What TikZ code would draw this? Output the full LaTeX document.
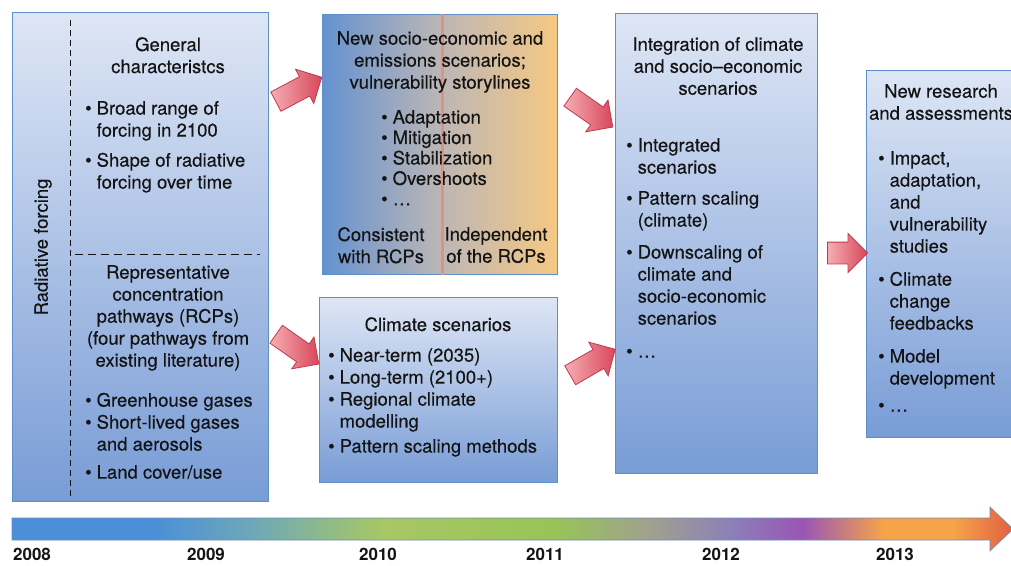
\documentclass[tikz,border=0pt]{standalone}
\usepackage{fontspec}
\setmainfont{TeX Gyre Heros}[UprightFeatures={FakeBold=0.3}]
\usetikzlibrary{positioning,calc,shapes.arrows}
\definecolor{boxtop}{RGB}{222,230,245}
\definecolor{boxbot}{RGB}{120,156,214}
\definecolor{boxedge}{RGB}{95,143,203}
\definecolor{scnblue}{RGB}{100,146,208}
\definecolor{scnmid}{RGB}{188,182,182}
\definecolor{scnorange}{RGB}{246,200,131}
\definecolor{splitred}{RGB}{219,148,132}
\definecolor{arrowlight}{RGB}{245,174,180}
\definecolor{arrowdark}{RGB}{216,71,90}
\definecolor{arrowedge}{RGB}{192,58,76}
\definecolor{ink}{RGB}{20,20,20}
% timeline colours
\definecolor{tlblue}{RGB}{74,143,216}
\definecolor{tlteal}{RGB}{110,168,184}
\definecolor{tlyellow}{RGB}{168,199,101}
\definecolor{tlgreen}{RGB}{152,196,86}
\definecolor{tlgrey}{RGB}{160,160,144}
\definecolor{tllav}{RGB}{140,127,184}
\definecolor{tlpurple}{RGB}{154,85,181}
\definecolor{tlorange}{RGB}{245,164,74}
\definecolor{tlred}{RGB}{226,96,64}
\definecolor{tledge}{RGB}{110,140,180}
\pgfdeclarehorizontalshading{yearbar}{100bp}{color(0bp)=(tlblue); color(25bp)=(tlblue); color(32bp)=(tlblue); color(37bp)=(tlteal); color(43.5bp)=(tlyellow); color(52bp)=(tlgreen); color(57bp)=(tlgrey); color(61bp)=(tllav); color(64.5bp)=(tlpurple); color(68.5bp)=(tlorange); color(72bp)=(tlorange); color(75bp)=(tlred); color(100bp)=(tlred)}
\newcommand{\bulletlist}[1]{\begin{tabular}[t]{@{}l@{\hspace{5pt}}l@{}}#1\end{tabular}}

\begin{document}
\begin{tikzpicture}[x=1pt, y=1pt,
  box/.style={draw=boxedge, line width=1pt, top color=boxtop, bottom color=boxbot, anchor=north west, inner sep=0pt},
  txt/.style={font=\fontsize{18.5}{22}\selectfont, text=ink, inner sep=0pt, align=center, anchor=north},
  lst/.style={font=\fontsize{18.5}{22}\selectfont, text=ink, inner sep=0pt, anchor=north west},
  bigarrow/.style={single arrow, draw=arrowedge, line width=0.8pt, left color=arrowlight, right color=arrowdark, minimum height=52pt, minimum width=0pt, inner xsep=0pt, inner ysep=10.5pt, single arrow head extend=8.5pt},
  yr/.style={font=\fontsize{17}{20}\selectfont\bfseries, text=ink, inner sep=0pt}]
\useasboundingbox (0,0) rectangle (1011,-565);
\clip (0,0) rectangle (1011,-565);
% Radiative forcing
\node[box, minimum width=256pt, minimum height=489pt] (rf) at (12,-12) {};
\draw[ink, line width=0.9pt, dash pattern=on 6pt off 4pt] ($(rf.north west)+(58,-8)$) -- ($(rf.south west)+(58,4)$);
\draw[ink, line width=0.9pt, dash pattern=on 8pt off 5pt] ($(rf.west)+(63,2.5)$) coordinate (cut) -- ($(cut -| rf.east)+(-9,0)$);
\node[txt, anchor=center, rotate=90] (rad) at (43,-247) {Radiative forcing};
\node[txt] (gc) at (168,-37) {General\\characteristcs};
\node[lst] (gclist) at (85,-99) {\bulletlist{%
  \textbullet & Broad range of\\ & forcing in 2100\\[8pt]
  \textbullet & Shape of radiative\\ & forcing over time}};
\node[txt] (rcp) at (168,-265) {Representative\\concentration\\pathways (RCPs)\\(four pathways from\\existing literature)};
\node[lst] (rcplist) at (85,-391) {\bulletlist{%
  \textbullet & Greenhouse gases\\
  \textbullet & Short-lived gases\\ & and aerosols\\[6pt]
  \textbullet & Land cover/use}};
% New scenarios
\node[box, minimum width=235pt, minimum height=260pt, left color=scnblue, right color=scnorange, middle color=scnmid] (ns) at (322,-14) {};
\draw[splitred, line width=2.5pt] ($(ns.north west)!0.51!(ns.north east)$) -- ($(ns.south west)!0.51!(ns.south east)$);
\node[txt] (nstitle) at (440,-31) {New socio-economic and\\emissions scenarios;\\vulnerability storylines};
\node[lst] (nslist) at (381,-109) {\renewcommand{\arraystretch}{0.93}\bulletlist{%
  \textbullet & Adaptation\\
  \textbullet & Mitigation\\
  \textbullet & Stabilization\\
  \textbullet & Overshoots\\
  \textbullet & \ldots}};
\node[txt] (cons) at (381,-227) {Consistent\\with RCPs};
\node[txt] (indep) at (496,-227) {Independent\\of the RCPs};
% Climate scenarios
\node[box, minimum width=238pt, minimum height=185pt] (cs) at (319,-297) {};
\node[txt] (cstitle) at (438,-317) {Climate scenarios};
\node[lst] (cslist) at (328,-346) {\bulletlist{%
  \textbullet & Near-term (2035)\\
  \textbullet & Long-term (2100+)\\
  \textbullet & Regional climate\\ & modelling\\[3pt]
  \textbullet & Pattern scaling methods}};
% Integration
\node[box, minimum width=202pt, minimum height=460pt] (ig) at (615,-13) {};
\node[txt] (igtitle) at (718,-37) {Integration of climate\\and socio--economic\\scenarios};
\node[lst] (iglist) at (626,-136) {\bulletlist{%
  \textbullet & Integrated\\ & scenarios\\[9pt]
  \textbullet & Pattern scaling\\ & (climate)\\[10pt]
  \textbullet & Downscaling of\\ & climate and\\ & socio-economic\\ & scenarios\\[11pt]
  \textbullet & \ldots}};
% New research
\node[box, minimum width=170pt, minimum height=367pt] (nr) at (866,-70) {};
\node[txt] (nrtitle) at (941,-84) {New research\\and assessments};
\node[lst] (nrlist) at (878,-149) {\bulletlist{%
  \textbullet & Impact,\\ & adaptation,\\ & and\\ & vulnerability\\ & studies\\[11pt]
  \textbullet & Climate\\ & change\\ & feedbacks\\[11pt]
  \textbullet & Model\\ & development\\[5pt]
  \textbullet & \ldots}};
% Block arrows
\node[bigarrow, rotate=28] (a1) at (294,-92) {};
\node[bigarrow, rotate=-35] (a2) at (293,-346) {};
\node[bigarrow, rotate=-35] (a3) at (587,-109) {};
\node[bigarrow, rotate=30] (a4) at (588,-365) {};
\node[bigarrow, minimum height=40pt] (a5) at (842,-253) {};
% Timeline
\shadedraw[shading=yearbar, draw=tledge, line width=0.6pt] (12,-518) -- (990,-518) -- (990,-507) -- (1013,-529) -- (990,-551) -- (990,-540) -- (12,-540) -- cycle;
\foreach \yr/\xx in {2008/32,2009/206,2010/378,2011/545,2012/721,2013/895}
  \node[yr] (y\yr) at (\xx,-554) {\yr};
\end{tikzpicture}
\end{document}
